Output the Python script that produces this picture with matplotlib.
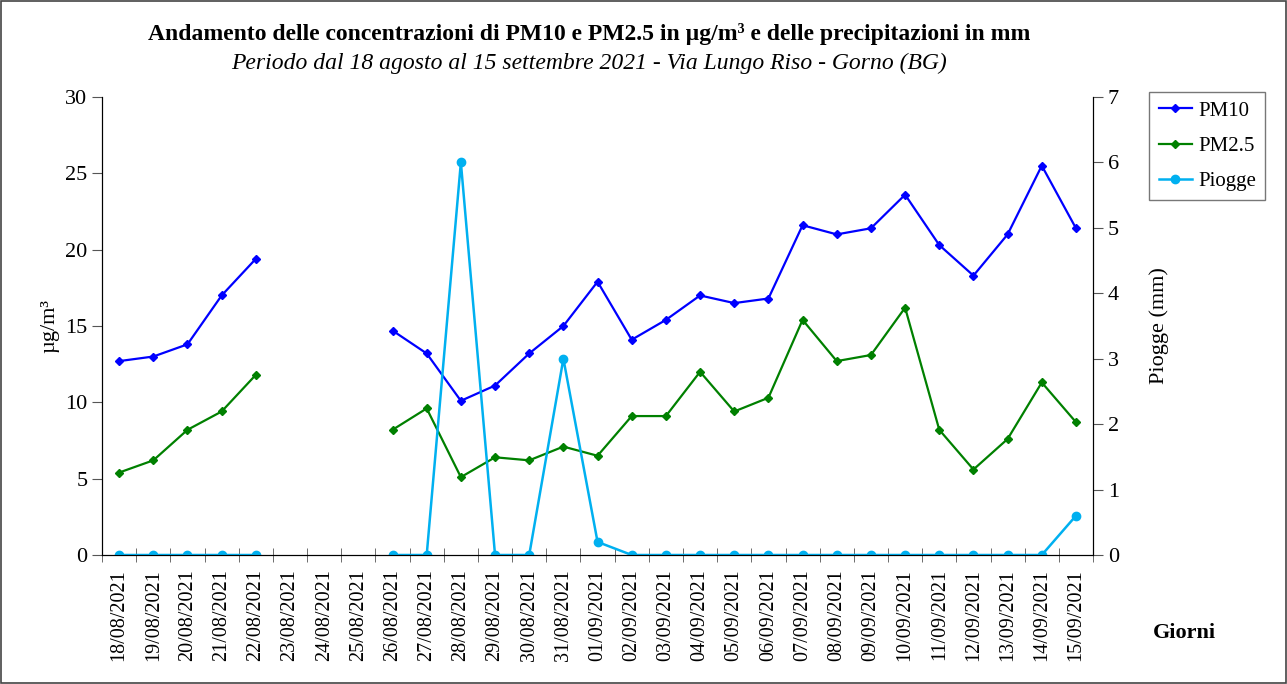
import matplotlib.pyplot as plt
import numpy as np
from matplotlib.patches import Rectangle

# dati
giorni = ['18/08/2021', '19/08/2021', '20/08/2021', '21/08/2021', '22/08/2021',
          '23/08/2021', '24/08/2021', '25/08/2021', '26/08/2021', '27/08/2021',
          '28/08/2021', '29/08/2021', '30/08/2021', '31/08/2021', '01/09/2021',
          '02/09/2021', '03/09/2021', '04/09/2021', '05/09/2021', '06/09/2021',
          '07/09/2021', '08/09/2021', '09/09/2021', '10/09/2021', '11/09/2021',
          '12/09/2021', '13/09/2021', '14/09/2021', '15/09/2021']
nan = np.nan
pm10 = [12.7, 13.0, 13.8, 17.0, 19.4, nan, nan, nan, 14.7, 13.2,
        10.1, 11.1, 13.2, 15.0, 17.9, 14.1, 15.4, 17.0, 16.5, 16.8,
        21.6, 21.0, 21.4, 23.6, 20.3, 18.3, 21.0, 25.5, 21.4]
pm25 = [5.4, 6.2, 8.2, 9.4, 11.8, nan, nan, nan, 8.2, 9.6,
        5.1, 6.4, 6.2, 7.1, 6.5, 9.1, 9.1, 12.0, 9.4, 10.3,
        15.4, 12.7, 13.1, 16.2, 8.2, 5.6, 7.6, 11.3, 8.7]
piogge = [0, 0, 0, 0, 0, nan, nan, nan, 0, 0,
          6.0, 0, 0, 3.0, 0.2, 0, 0, 0, 0, 0,
          0, 0, 0, 0, 0, 0, 0, 0, 0.6]

plt.rcParams['font.family'] = ['Liberation Serif', 'DejaVu Serif']

x = np.arange(len(giorni))

fig = plt.figure(figsize=(12.87, 6.84), dpi=100)
ax = fig.add_axes([0.0793, 0.1886, 0.77, 0.6696])
ax2 = ax.twinx()

l1, = ax.plot(x, pm10, color='#0000FF', marker='D', markersize=4.5, lw=1.6, label='PM10')
l2, = ax.plot(x, pm25, color='#008000', marker='D', markersize=4.5, lw=1.6, label='PM2.5')
l3, = ax2.plot(x, piogge, color='#00B0F0', marker='o', markersize=6, lw=1.8, label='Piogge')

ax.set_xlim(-0.5, len(giorni) - 0.5)
ax.set_ylim(0, 30)
ax2.set_ylim(0, 7)
ax.set_yticks(np.arange(0, 31, 5))
ax2.set_yticks(np.arange(0, 8, 1))

ax.set_xticks(x)
ax.set_xticklabels(giorni, rotation=90, fontsize=14.5)
ax.set_xticks(np.arange(-0.5, len(giorni), 1), minor=True)
ax.tick_params(axis='x', which='major', length=0, pad=10)
ax.tick_params(axis='x', which='minor', length=10, direction='inout', color='#555555')
ax.tick_params(axis='y', labelsize=16, length=7, color='#555555')
ax2.tick_params(axis='y', labelsize=16, length=7, color='#555555')

for a in (ax, ax2):
    a.spines['top'].set_visible(False)

ax.set_ylabel('µg/m³', fontsize=16)
ax2.set_ylabel('Piogge (mm)', fontsize=16, labelpad=22)

fig.text(0.458, 0.95, 'Andamento delle concentrazioni di PM10 e PM2.5 in µg/m³ e delle precipitazioni in mm',
         ha='center', va='center', fontsize=17, fontweight='bold')
fig.text(0.458, 0.908, 'Periodo dal 18 agosto al 15 settembre 2021 - Via Lungo Riso - Gorno (BG)',
         ha='center', va='center', fontsize=17, style='italic')
fig.text(0.92, 0.075, 'Giorni', ha='center', va='center', fontsize=16, fontweight='bold')

fig.legend(handles=[l1, l2, l3], loc='upper left', bbox_to_anchor=(0.893, 0.866),
           fontsize=15, frameon=True, fancybox=False, edgecolor='#555555',
           handlelength=1.6, handletextpad=0.3, labelspacing=0.75, borderpad=0.45,
           borderaxespad=0.0)

# cornice esterna
fig.patches.append(Rectangle((0.001, 0.001), 0.998, 0.997, transform=fig.transFigure,
                             fill=False, edgecolor='#444444', lw=1.2))

fig.savefig('out.png', dpi=100, facecolor='white')
